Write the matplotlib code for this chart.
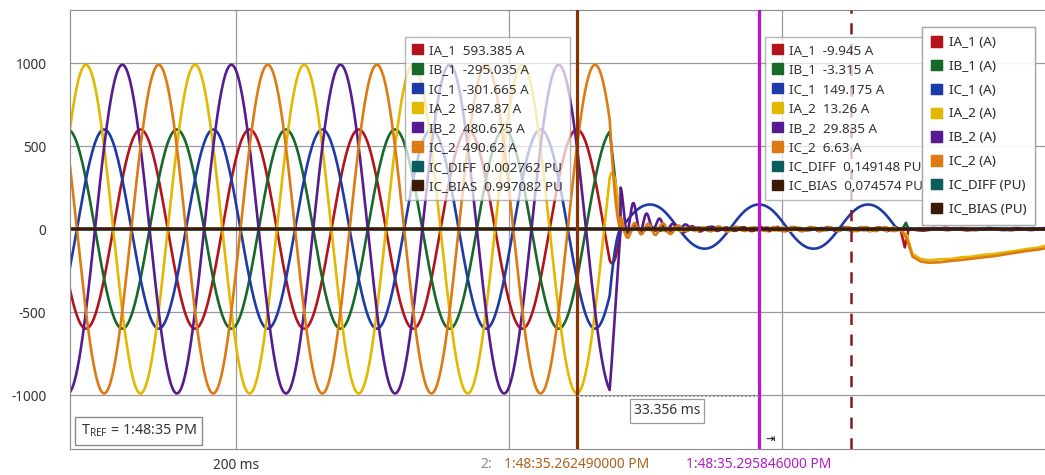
import numpy as np
import matplotlib
matplotlib.use("Agg")
import matplotlib.pyplot as plt
from matplotlib.patches import Patch

plt.rcParams['font.family'] = ['Noto Sans', 'DejaVu Sans']

# ---- data ----
names = ['IA_1', 'IB_1', 'IC_1', 'IA_2', 'IB_2', 'IC_2', 'IC_DIFF', 'IC_BIAS']
units = ['A', 'A', 'A', 'A', 'A', 'A', 'PU', 'PU']
colors = ['#b3141b', '#17692a', '#1d3aa8', '#e3b800', '#561c8f', '#dd7a14', '#0b5c5c', '#3b1a0a']

cur1_vals = ['593.385 A', '-295.035 A', '-301.665 A', '-987.87 A', '480.675 A', '490.62 A',
             '0.002762 PU', '0.997082 PU']
cur2_vals = ['-9.945 A', '-3.315 A', '149.175 A', '13.26 A', '29.835 A', '6.63 A',
             '0,149148 PU', '0,074574 PU']

freq_hz = 50.0
amp_pre = [600, 600, 600, 990, 990, 990]        # peak A before the trip
phase_deg = [0, -120, 120, 180, 60, -60]        # relative to cursor 1
pu_pre = [0.003, 0.997]                          # IC_DIFF, IC_BIAS
pu_post = [0.149, 0.075]

t_c1 = 262.49       # ms, cursor 1
t_c2 = 295.846      # ms, cursor 2
t_mark = 312.7      # ms, dashed marker
t_open = 268.5      # currents start collapsing
t_zero = 270.5      # currents at zero

# ringing right after interruption: amplitude A, period ms, decay ms, bias
ring_amp = [45, 25, 0, 60, 250, 70]
ring_per = [2.6, 2.8, 2.4, 2.5, 2.4, 2.6]
ring_tau = [6, 5, 5, 4, 5, 7]
ring_bias = [0.0, 0.0, 0.0, -0.3, 0.45, 0.0]

# small residual ripple after interruption: amplitude A, period ms
rip_amp = [12, 6, 2, 10, 6, 12]
rip_per = [3.1, 4.3, 6.7, 2.9, 5.1, 3.4]

# IC_1 post-fault 50 Hz swing
ic1_post_amp = 135
ic1_post_off = 15
ic1_post_end = 321.0

# tails after ~322 ms (read as points)
tail_t = {
    'IA_1': [321.8, 322.6, 323.3, 326, 330, 334, 338, 342, 346, 348.4],
    'IB_1': [321.8, 322.3, 322.8, 323.3, 330, 348.4],
    'IA_2': [321.8, 323.0, 324.0, 325.5, 327, 329, 331, 333, 335, 337, 339, 341, 343, 345, 347, 348.4],
    'IC_2': [321.8, 323.0, 324.0, 325.5, 327, 329, 331, 333, 335, 337, 339, 341, 343, 345, 347, 348.4],
}
tail_v = {
    'IA_1': [0, -110, 0, -10, 8, -8, 6, -7, 5, 0],
    'IB_1': [0, 8, 38, 0, 3, 0],
    'IA_2': [0, -40, -150, -180, -188, -182, -180, -170, -166, -155, -150, -140, -131, -120, -112, -100],
    'IC_2': [0, -60, -165, -195, -203, -200, -192, -186, -178, -170, -163, -152, -142, -132, -124, -116],
}

# ---- build traces ----
t = np.arange(169.0, 349.0, 0.02)
w = 2 * np.pi * freq_hz / 1000.0
env = np.clip((t_zero - t) / (t_zero - t_open), 0, 1)
post = t >= t_zero

traces = []
for i in range(6):
    y = amp_pre[i] * np.cos(w * (t - t_c1) + np.deg2rad(phase_deg[i])) * env
    tr = t[post] - t_zero
    b = ring_bias[i]
    y[post] += ring_amp[i] * np.exp(-tr / ring_tau[i]) * (b + (1 - abs(b)) * np.cos(2 * np.pi * tr / ring_per[i]))
    y[post] += rip_amp[i] * np.sin(2 * np.pi * tr / rip_per[i]) * np.clip(tr / 2.0, 0, 1)
    if names[i] == 'IC_1':
        m = post & (t <= ic1_post_end)
        y[m] += ic1_post_off + ic1_post_amp * np.cos(w * (t[m] - t_c2))
    tt, yy = t, y
    if names[i] in tail_t:
        keep = t < tail_t[names[i]][0]
        tt = np.concatenate([t[keep], tail_t[names[i]]])
        yy = np.concatenate([y[keep], tail_v[names[i]]])
    traces.append((tt, yy))
for k in range(2):
    traces.append((t, np.where(t < t_zero, pu_pre[k], pu_post[k])))

# ---- figure ----
W, H = 1045, 475
fig = plt.figure(figsize=(W / 100, H / 100), dpi=100)
ax = fig.add_axes([70 / W, 26 / H, 975 / W, 439 / H])

for (tt, yy), c in zip(traces[:6], colors[:6]):
    ax.plot(tt, yy, color=c, lw=1.9, zorder=2, solid_joinstyle='round')
for (tt, yy), c in zip(traces[6:], colors[6:]):
    ax.plot(tt, yy, color=c, lw=2.3, zorder=2.5)

ax.set_xlim(169.57, 348.3)
ax.set_ylim(-1325, 1320)
ax.set_yticks([-1000, -500, 0, 500, 1000])
ax.set_yticklabels(['-1000', '-500', '0', '500', '1000'])
ax.set_xticks([200, 250, 300])
ax.set_xticklabels(['200 ms', '', ''])
ax.tick_params(length=0, labelsize=9.8, colors='#333333')
ax.tick_params(axis='y', pad=17)
ax.tick_params(axis='x', pad=6.5)
ax.grid(True, color='#9a9a9a', lw=0.9, zorder=0)
ax.set_axisbelow(True)
for s in ['left', 'top', 'bottom']:
    ax.spines[s].set_color('#8a8a8a')
ax.spines['right'].set_visible(False)

# cursors
ax.axvline(t_c1, color='#8a3300', lw=2.3, zorder=3)
ax.axvline(t_c2, color='#c010d0', lw=2.3, zorder=3)
ax.axvline(t_mark, color='#8b1a1a', lw=1.8, ls=(0, (4.5, 3.8)), zorder=3)

# delta between cursors
ax.plot([t_c1, t_c2], [-1006, -1006], color='#8a8a8a', lw=1.2, ls=(0, (1.2, 1.2)), zorder=3)
ax.text(279.0, -1096, '33.356 ms', ha='center', va='center', fontsize=10, color='#333333',
        bbox=dict(boxstyle='square,pad=0.3', fc='white', ec='#9a9a9a', lw=0.9), zorder=6)
ax.text(297.9, -1265, '\u21e5', ha='center', va='center', fontsize=8, color='black', zorder=6)

ax.text(0.011, 0.022, r'T$_\mathregular{REF}$ = 1:48:35 PM', transform=ax.transAxes,
        ha='left', va='bottom', fontsize=10.3, color='#333333',
        bbox=dict(boxstyle='square,pad=0.4', fc='white', ec='#8a8a8a', lw=1.0), zorder=6)

# cursor time labels under the axis
fig.text(486 / W, 1 - 464 / H, '2:', ha='center', va='center', fontsize=10, color='#8a8a8a')
fig.text(577 / W, 1 - 464 / H, '1:48:35.262490000 PM', ha='center', va='center',
         fontsize=9.9, color='#b0601a')
fig.text(759 / W, 1 - 464 / H, '1:48:35.295846000 PM', ha='center', va='center',
         fontsize=9.9, color='#b020c0')


def box_legend(labels, x_px, y_px, spacing, pad):
    handles = [Patch(facecolor=c, edgecolor=c) for c in colors]
    leg = ax.legend(handles, labels, loc='upper left',
                    bbox_to_anchor=(x_px / W, 1 - y_px / H), bbox_transform=fig.transFigure,
                    borderaxespad=0, fontsize=9.7, handlelength=0.8, handleheight=0.8,
                    handletextpad=0.5, labelspacing=spacing, borderpad=pad,
                    frameon=True, fancybox=False, framealpha=0.72, edgecolor='#9a9a9a')
    leg.get_frame().set_linewidth(1.0)
    for txt in leg.get_texts():
        txt.set_color('#333333')
    ax.add_artist(leg)
    return leg


box_legend([n + '  ' + v for n, v in zip(names, cur1_vals)], 405, 37, 0.48, 0.5)
box_legend([n + '  ' + v for n, v in zip(names, cur2_vals)], 765, 37, 0.48, 0.5)
box_legend([n + ' (' + u + ')' for n, u in zip(names, units)], 922, 27, 0.80, 0.68)

fig.savefig('out.png', dpi=100, facecolor='white')
